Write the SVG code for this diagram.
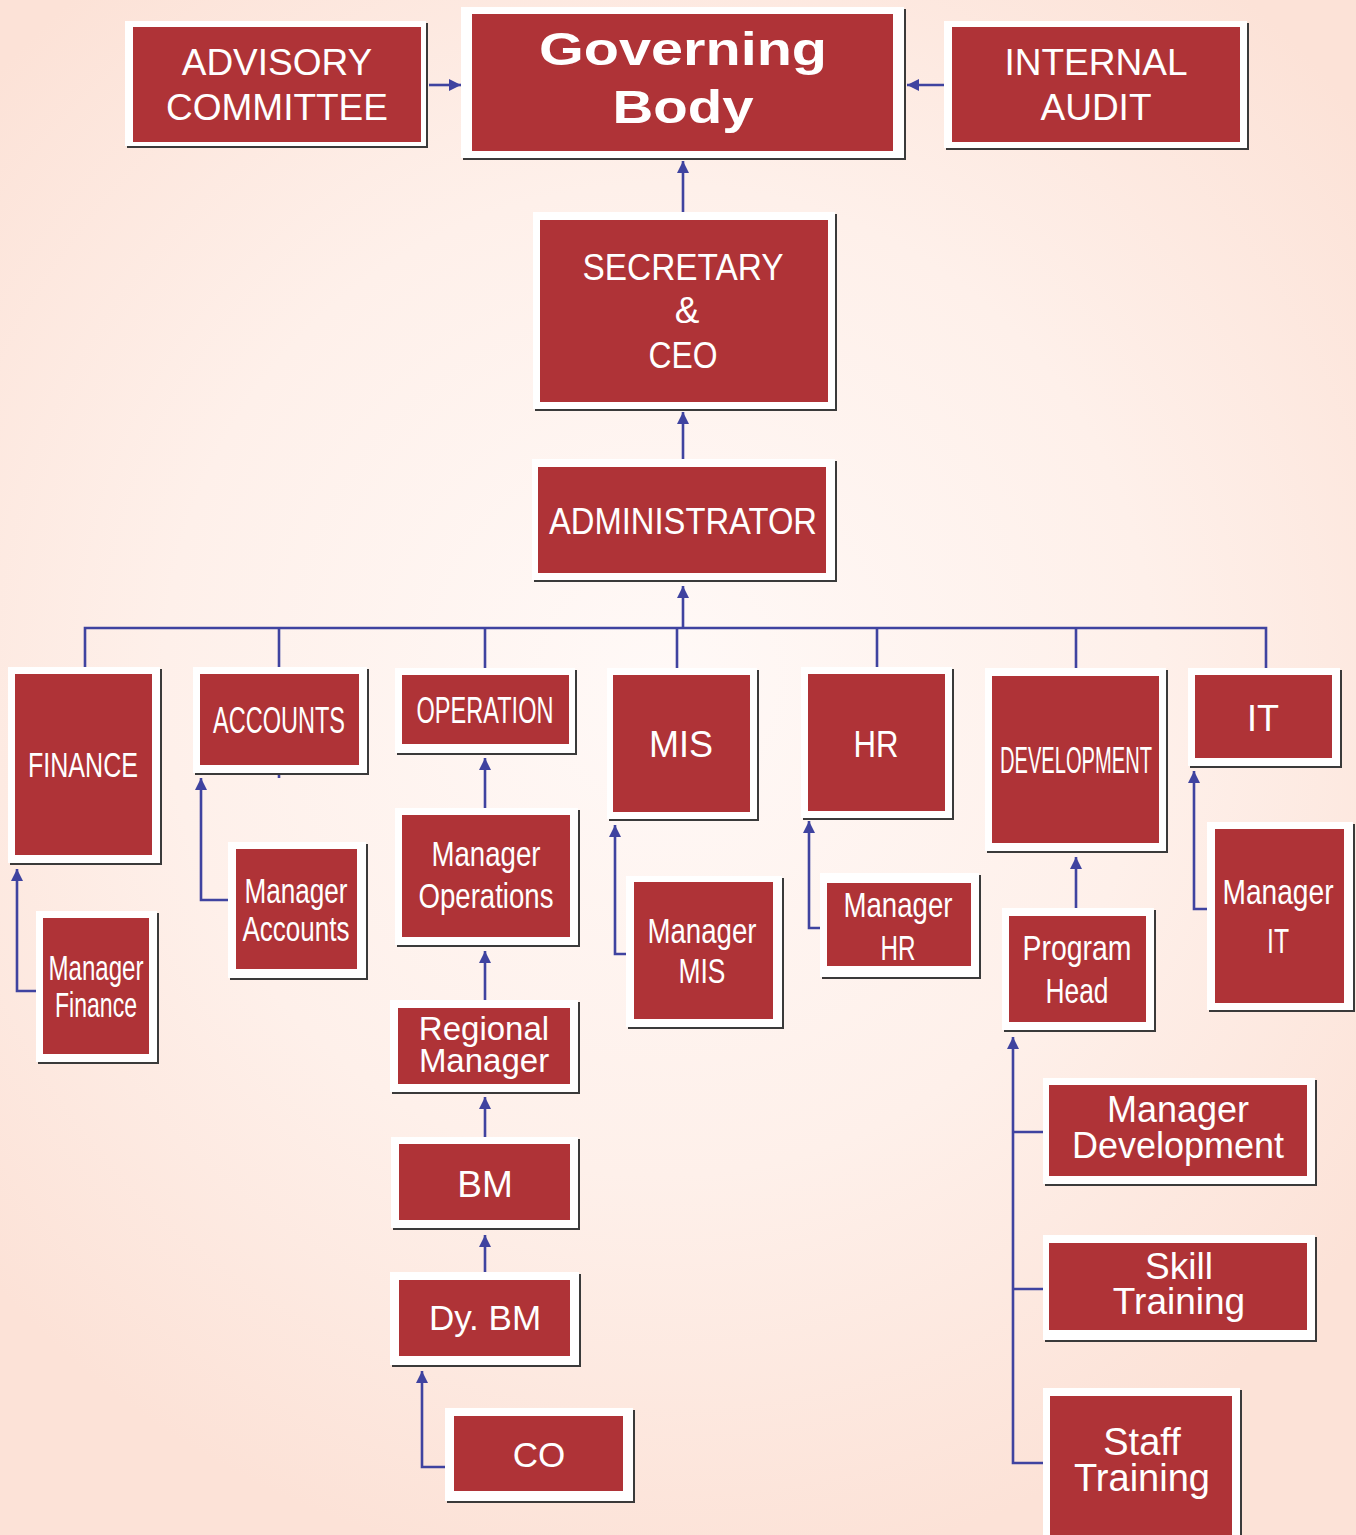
<svg xmlns="http://www.w3.org/2000/svg" width="1356" height="1535" viewBox="0 0 1356 1535">
<defs>
<radialGradient id="bg" cx="660" cy="680" r="900" gradientUnits="userSpaceOnUse">
<stop offset="0" stop-color="#FFF9F7"/>
<stop offset="0.55" stop-color="#FEF0EA"/>
<stop offset="1" stop-color="#FCE2D7"/>
</radialGradient>
<marker id="arr" markerUnits="userSpaceOnUse" markerWidth="14" markerHeight="14" viewBox="0 0 14 14" refX="12" refY="7" orient="auto">
<path d="M0,1 L12,7 L0,13 Z" fill="#3F43A0"/>
</marker>
<style>
.sh{fill:#3A3A3A}
.fr{fill:#FFFFFF}
.rd{fill:#AF3337}
.t{fill:#FFFFFF;font-family:"Liberation Sans",Arial,Helvetica,sans-serif;text-anchor:middle}
.c{fill:none;stroke:#3F43A0;stroke-width:2.6}
.a{marker-end:url(#arr)}
</style>
</defs>
<rect width="1356" height="1535" fill="url(#bg)"/>

<g id="connectors">
<path class="c a" d="M429,85 H461"/>
<path class="c a" d="M944,85 H907"/>
<path class="c a" d="M683,212 V161"/>
<path class="c a" d="M683,459 V412"/>
<path class="c a" d="M683,628 V586"/>
<path class="c" d="M85,667 V628 H1266 V668"/>
<path class="c" d="M279,628 V667 M485,628 V668 M677,628 V668 M877,628 V667 M1076,628 V668"/>
<path class="c" d="M279,773 V778"/>
<path class="c a" d="M36,991 H17 V869"/>
<path class="c a" d="M228,900 H201 V778"/>
<path class="c a" d="M485,808 V758"/>
<path class="c a" d="M485,1000 V951"/>
<path class="c a" d="M485,1137 V1097"/>
<path class="c a" d="M485,1272 V1235"/>
<path class="c a" d="M445,1467 H422 V1371"/>
<path class="c a" d="M626,954 H615 V825"/>
<path class="c a" d="M820,928 H809 V821"/>
<path class="c a" d="M1076,908 V857"/>
<path class="c a" d="M1207,909 H1194 V771"/>
<path class="c a" d="M1043,1463 H1013 V1037"/>
<path class="c" d="M1013,1132 H1043 M1013,1289 H1043"/>
</g>

<g id="advisory">
<rect class="sh" x="127" y="23" width="301" height="125"/>
<rect class="fr" x="125" y="21" width="301" height="125"/>
<rect class="rd" x="133" y="27" width="288" height="115"/>
<text class="t" x="277" y="75" font-size="37">ADVISORY</text>
<text class="t" x="277" y="120" font-size="37">COMMITTEE</text>
</g>

<g id="governing">
<rect class="sh" x="463" y="9" width="443" height="151"/>
<rect class="fr" x="461" y="7" width="443" height="151"/>
<rect class="rd" x="472" y="14" width="421" height="137"/>
<text class="t" x="683" y="65" font-size="46" font-weight="bold" textLength="288" lengthAdjust="spacingAndGlyphs">Governing</text>
<text class="t" x="683" y="123" font-size="46" font-weight="bold" textLength="141" lengthAdjust="spacingAndGlyphs">Body</text>
</g>

<g id="internal">
<rect class="sh" x="946" y="23" width="303" height="127"/>
<rect class="fr" x="944" y="21" width="303" height="127"/>
<rect class="rd" x="952" y="27" width="288" height="115"/>
<text class="t" x="1096" y="75" font-size="37">INTERNAL</text>
<text class="t" x="1096" y="120" font-size="37">AUDIT</text>
</g>

<g id="secretary">
<rect class="sh" x="535" y="214" width="302" height="197"/>
<rect class="fr" x="533" y="212" width="302" height="197"/>
<rect class="rd" x="540" y="220" width="288" height="182"/>
<text class="t" x="683" y="280" font-size="37" textLength="201" lengthAdjust="spacingAndGlyphs">SECRETARY</text>
<text class="t" x="687" y="323" font-size="37">&amp;</text>
<text class="t" x="683" y="368" font-size="37" textLength="69" lengthAdjust="spacingAndGlyphs">CEO</text>
</g>

<g id="administrator">
<rect class="sh" x="534" y="461" width="303" height="121"/>
<rect class="fr" x="532" y="459" width="303" height="121"/>
<rect class="rd" x="538" y="467" width="288" height="106"/>
<text class="t" x="683" y="534" font-size="36" textLength="268" lengthAdjust="spacingAndGlyphs">ADMINISTRATOR</text>
</g>

<g id="finance">
<rect class="sh" x="10" y="669" width="152" height="196"/>
<rect class="fr" x="8" y="667" width="152" height="196"/>
<rect class="rd" x="15" y="674" width="137" height="181"/>
<text class="t" x="83" y="777" font-size="35" textLength="110" lengthAdjust="spacingAndGlyphs">FINANCE</text>
</g>

<g id="accounts">
<rect class="sh" x="195" y="669" width="174" height="106"/>
<rect class="fr" x="193" y="667" width="174" height="106"/>
<rect class="rd" x="200" y="674" width="159" height="91"/>
<text class="t" x="279" y="733" font-size="36" textLength="132" lengthAdjust="spacingAndGlyphs">ACCOUNTS</text>
</g>

<g id="operation">
<rect class="sh" x="397" y="670" width="180" height="85"/>
<rect class="fr" x="395" y="668" width="180" height="85"/>
<rect class="rd" x="402" y="675" width="167" height="69"/>
<text class="t" x="485" y="723" font-size="36" textLength="137" lengthAdjust="spacingAndGlyphs">OPERATION</text>
</g>

<g id="mis">
<rect class="sh" x="609" y="670" width="150" height="151"/>
<rect class="fr" x="607" y="668" width="150" height="151"/>
<rect class="rd" x="613" y="675" width="137" height="137"/>
<text class="t" x="681" y="757" font-size="36">MIS</text>
</g>

<g id="hr">
<rect class="sh" x="803" y="669" width="151" height="151"/>
<rect class="fr" x="801" y="667" width="151" height="151"/>
<rect class="rd" x="808" y="674" width="137" height="137"/>
<text class="t" x="876" y="757" font-size="36" textLength="45" lengthAdjust="spacingAndGlyphs">HR</text>
</g>

<g id="development">
<rect class="sh" x="987" y="670" width="181" height="183"/>
<rect class="fr" x="985" y="668" width="181" height="183"/>
<rect class="rd" x="992" y="676" width="167" height="167"/>
<text class="t" x="1076" y="773" font-size="36" textLength="152" lengthAdjust="spacingAndGlyphs">DEVELOPMENT</text>
</g>

<g id="it">
<rect class="sh" x="1190" y="670" width="152" height="98"/>
<rect class="fr" x="1188" y="668" width="152" height="98"/>
<rect class="rd" x="1195" y="675" width="137" height="83"/>
<text class="t" x="1263" y="731" font-size="36">IT</text>
</g>

<g id="manager-finance">
<rect class="sh" x="38" y="913" width="121" height="151"/>
<rect class="fr" x="36" y="911" width="121" height="151"/>
<rect class="rd" x="43" y="918" width="106" height="136"/>
<text class="t" x="96" y="980" font-size="35" textLength="95" lengthAdjust="spacingAndGlyphs">Manager</text>
<text class="t" x="96" y="1017" font-size="35" textLength="82" lengthAdjust="spacingAndGlyphs">Finance</text>
</g>

<g id="manager-accounts">
<rect class="sh" x="230" y="844" width="138" height="136"/>
<rect class="fr" x="228" y="842" width="138" height="136"/>
<rect class="rd" x="236" y="849" width="121" height="120"/>
<text class="t" x="296" y="903" font-size="35" textLength="103" lengthAdjust="spacingAndGlyphs">Manager</text>
<text class="t" x="296" y="941" font-size="35" textLength="107" lengthAdjust="spacingAndGlyphs">Accounts</text>
</g>

<g id="manager-operations">
<rect class="sh" x="397" y="810" width="183" height="137"/>
<rect class="fr" x="395" y="808" width="183" height="137"/>
<rect class="rd" x="402" y="815" width="168" height="122"/>
<text class="t" x="486" y="866" font-size="35" textLength="109" lengthAdjust="spacingAndGlyphs">Manager</text>
<text class="t" x="486" y="908" font-size="35" textLength="135" lengthAdjust="spacingAndGlyphs">Operations</text>
</g>

<g id="regional-manager">
<rect class="sh" x="392" y="1002" width="188" height="92"/>
<rect class="fr" x="390" y="1000" width="188" height="92"/>
<rect class="rd" x="398" y="1008" width="172" height="76"/>
<text class="t" x="484" y="1040" font-size="33">Regional</text>
<text class="t" x="484" y="1072" font-size="33">Manager</text>
</g>

<g id="bm">
<rect class="sh" x="393" y="1139" width="187" height="91"/>
<rect class="fr" x="391" y="1137" width="187" height="91"/>
<rect class="rd" x="399" y="1144" width="171" height="76"/>
<text class="t" x="485" y="1197" font-size="37">BM</text>
</g>

<g id="dy-bm">
<rect class="sh" x="392" y="1274" width="189" height="93"/>
<rect class="fr" x="390" y="1272" width="189" height="93"/>
<rect class="rd" x="399" y="1280" width="171" height="76"/>
<text class="t" x="485" y="1330" font-size="35">Dy. BM</text>
</g>

<g id="co">
<rect class="sh" x="447" y="1410" width="188" height="93"/>
<rect class="fr" x="445" y="1408" width="188" height="93"/>
<rect class="rd" x="454" y="1416" width="169" height="75"/>
<text class="t" x="539" y="1467" font-size="35">CO</text>
</g>

<g id="manager-mis">
<rect class="sh" x="628" y="878" width="156" height="151"/>
<rect class="fr" x="626" y="876" width="156" height="151"/>
<rect class="rd" x="634" y="882" width="139" height="137"/>
<text class="t" x="702" y="943" font-size="35" textLength="109" lengthAdjust="spacingAndGlyphs">Manager</text>
<text class="t" x="702" y="983" font-size="35" textLength="47" lengthAdjust="spacingAndGlyphs">MIS</text>
</g>

<g id="manager-hr">
<rect class="sh" x="822" y="875" width="159" height="104"/>
<rect class="fr" x="820" y="873" width="159" height="104"/>
<rect class="rd" x="827" y="883" width="144" height="83"/>
<text class="t" x="898" y="917" font-size="35" textLength="109" lengthAdjust="spacingAndGlyphs">Manager</text>
<text class="t" x="898" y="960" font-size="35" textLength="35" lengthAdjust="spacingAndGlyphs">HR</text>
</g>

<g id="program-head">
<rect class="sh" x="1004" y="910" width="152" height="122"/>
<rect class="fr" x="1002" y="908" width="152" height="122"/>
<rect class="rd" x="1009" y="916" width="137" height="106"/>
<text class="t" x="1077" y="960" font-size="35" textLength="109" lengthAdjust="spacingAndGlyphs">Program</text>
<text class="t" x="1077" y="1003" font-size="35" textLength="63" lengthAdjust="spacingAndGlyphs">Head</text>
</g>

<g id="manager-it">
<rect class="sh" x="1209" y="824" width="146" height="188"/>
<rect class="fr" x="1207" y="822" width="146" height="188"/>
<rect class="rd" x="1215" y="829" width="129" height="174"/>
<text class="t" x="1278" y="904" font-size="35" textLength="111" lengthAdjust="spacingAndGlyphs">Manager</text>
<text class="t" x="1278" y="953" font-size="35" textLength="22" lengthAdjust="spacingAndGlyphs">IT</text>
</g>

<g id="manager-development">
<rect class="sh" x="1045" y="1080" width="272" height="106"/>
<rect class="fr" x="1043" y="1078" width="272" height="106"/>
<rect class="rd" x="1049" y="1085" width="258" height="91"/>
<text class="t" x="1178" y="1122" font-size="36">Manager</text>
<text class="t" x="1178" y="1158" font-size="36">Development</text>
</g>

<g id="skill-training">
<rect class="sh" x="1045" y="1237" width="272" height="105"/>
<rect class="fr" x="1043" y="1235" width="272" height="105"/>
<rect class="rd" x="1049" y="1243" width="258" height="87"/>
<text class="t" x="1179" y="1279" font-size="37">Skill</text>
<text class="t" x="1179" y="1314" font-size="37">Training</text>
</g>

<g id="staff-training">
<rect class="sh" x="1045" y="1390" width="197" height="150"/>
<rect class="fr" x="1043" y="1388" width="197" height="150"/>
<rect class="rd" x="1050" y="1396" width="182" height="144"/>
<text class="t" x="1142" y="1455" font-size="38">Staff</text>
<text class="t" x="1142" y="1491" font-size="38">Training</text>
</g>
</svg>
